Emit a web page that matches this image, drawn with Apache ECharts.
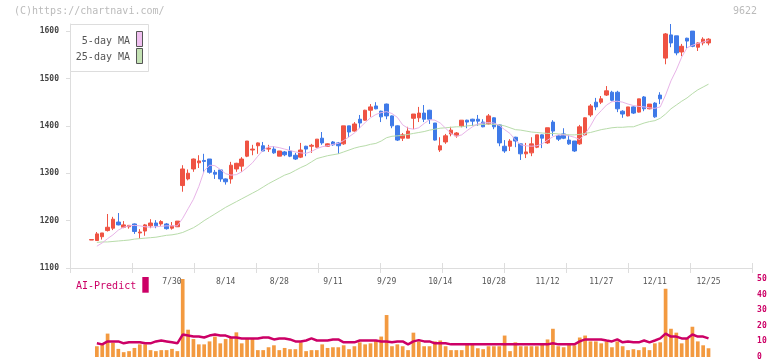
<!DOCTYPE html>
<html><head><meta charset="utf-8">
<script src="https://cdn.jsdelivr.net/npm/echarts@6/dist/echarts.min.js"></script>
<style>html,body{margin:0;padding:0;background:#fff}#c{width:772px;height:361px}</style>
</head><body><div id="c"></div>
<script>
const dates = ['7/8','7/9','7/10','7/11','7/14','7/15','7/16','7/17','7/18','7/22','7/23','7/24','7/25','7/28','7/29','7/30','7/31',
'8/1','8/4','8/5','8/6','8/7','8/8','8/12','8/13','8/14','8/15','8/18','8/19','8/20','8/21','8/22','8/25','8/26','8/27','8/28','8/29',
'9/1','9/2','9/3','9/4','9/5','9/8','9/9','9/10','9/11','9/12','9/16','9/17','9/18','9/19','9/22','9/24','9/25','9/26','9/29','9/30',
'10/1','10/2','10/3','10/6','10/7','10/8','10/9','10/10','10/14','10/15','10/16','10/17','10/20','10/21','10/22','10/23','10/24','10/27','10/28','10/29','10/30','10/31',
'11/4','11/5','11/6','11/7','11/10','11/11','11/12','11/13','11/14','11/17','11/18','11/19','11/20','11/21','11/25','11/26','11/27','11/28',
'12/1','12/2','12/3','12/4','12/5','12/8','12/9','12/10','12/11','12/12','12/15','12/16','12/17','12/18','12/19','12/22','12/23','12/24','12/25'];

const tickLabels = ['7/30','8/14','8/28','9/11','9/29','10/14','10/28','11/12','11/27','12/11','12/25'];
const priceTicks = [1100,1200,1300,1400,1500,1600];

// [open, close, low, high]
const candles = [
[1159,1160,1159,1160],[1158,1172,1158,1176],[1166,1174,1160,1174],[1179,1186,1177,1214],[1184,1203,1180,1208],
[1197,1191,1190,1216],[1186,1191,1184,1199],[1187,1190,1183,1190],[1193,1177,1172,1194],[1174,1176,1162,1182],
[1178,1191,1168,1193],[1189,1195,1184,1203],[1195,1189,1184,1201],[1193,1198,1189,1201],[1193,1183,1181,1195],
[1184,1189,1181,1197],[1187,1199,1187,1199],[1274,1309,1261,1317],[1288,1300,1285,1308],[1309,1330,1303,1331],
[1322,1326,1311,1338],[1327,1325,1301,1341],[1330,1302,1299,1330],[1302,1298,1288,1307],[1307,1288,1282,1307],
[1288,1282,1276,1289],[1288,1317,1278,1324],[1309,1321,1303,1322],[1315,1330,1303,1334],[1336,1368,1334,1368],
[1349,1351,1338,1360],[1358,1364,1341,1365],[1358,1347,1346,1366],[1351,1353,1345,1360],[1351,1343,1341,1357],
[1336,1347,1336,1347],[1345,1339,1336,1347],[1347,1336,1334,1357],[1338,1330,1328,1343],[1334,1349,1332,1364],
[1357,1351,1336,1358],[1357,1359,1343,1362],[1355,1372,1354,1372],[1374,1364,1360,1387],[1357,1362,1356,1363],
[1366,1360,1358,1368],[1364,1358,1341,1366],[1362,1400,1360,1400],[1400,1387,1376,1400],[1389,1404,1388,1408],
[1414,1406,1395,1423],[1412,1433,1411,1434],[1433,1440,1419,1446],[1442,1436,1435,1450],[1431,1419,1408,1432],
[1446,1421,1414,1447],[1421,1400,1395,1422],[1400,1370,1368,1401],[1374,1381,1368,1385],[1374,1389,1374,1398],
[1416,1425,1393,1425],[1417,1427,1408,1440],[1427,1414,1408,1444],[1433,1414,1404,1434],[1406,1370,1369,1406],
[1349,1358,1345,1376],[1366,1379,1362,1383],[1383,1391,1378,1398],[1379,1385,1375,1387],[1400,1412,1397,1412],
[1412,1408,1395,1413],[1414,1410,1400,1415],[1414,1410,1400,1423],[1408,1398,1397,1414],[1404,1421,1403,1425],
[1417,1398,1393,1418],[1402,1364,1357,1403],[1357,1347,1343,1370],[1357,1368,1347,1372],[1376,1368,1355,1377],
[1362,1341,1328,1362],[1341,1345,1332,1364],[1343,1362,1336,1376],[1355,1381,1353,1381],[1381,1374,1353,1382],
[1364,1396,1362,1396],[1408,1389,1379,1412],[1379,1372,1368,1381],[1383,1374,1372,1395],[1370,1362,1360,1381],
[1368,1347,1345,1368],[1362,1398,1360,1402],[1381,1417,1380,1418],[1423,1442,1419,1446],[1450,1440,1433,1459],
[1450,1457,1446,1463],[1465,1474,1463,1484],[1471,1454,1452,1474],[1471,1436,1429,1474],[1431,1425,1417,1433],
[1421,1440,1420,1440],[1440,1427,1425,1441],[1429,1457,1428,1457],[1461,1436,1431,1463],[1436,1446,1435,1446],
[1448,1419,1417,1450],[1465,1457,1446,1471],[1543,1594,1530,1596],[1592,1575,1566,1615],[1590,1554,1549,1590],
[1556,1568,1547,1573],[1585,1579,1564,1586],[1600,1568,1566,1600],[1566,1575,1558,1576],[1575,1583,1570,1587],
[1575,1583,1570,1585]];

const ma5 = [null,1146,1153,1162,1170,1180,1186,1189,1190,1189,1187,1186,1187,1188,1189,1189,1189,1205,1225,1245,1272,
1305,1317,1316,1308,1299,1296,1297,1303,1312,1322,1336,1349,1356,1356,1354,1351,1348,1345,1343,1342,
1346,1352,1356,1358,1361,1363,1369,1377,1385,1396,1407,1417,1424,1428,1430,1426,1418,1402,1395,1393,
1396,1405,1413,1412,1406,1395,1384,1378,1381,1390,1398,1404,1406,1407,1406,1401,1392,1384,1370,1360,
1358,1357,1358,1362,1370,1377,1381,1381,1379,1376,1371,1383,1400,1420,1432,1444,1451,1452,1450,1446,
1443,1441,1440,1438,1437,1440,1465,1495,1518,1545,1565,1570,1574,1577,1580];

const ma25 = [null,1154,1155,1155,1156,1157,1158,1159,1161,1162,1163,1164,1165,1167,1169,1170,1172,1175,1180,1185,1192,
1200,1207,1214,1221,1228,1234,1240,1246,1252,1258,1264,1271,1278,1284,1290,1296,1300,1306,1312,1317,
1324,1331,1334,1337,1339,1341,1345,1349,1353,1356,1358,1361,1363,1368,1375,1378,1379,1380,1382,1384,
1386,1388,1391,1393,1395,1396,1397,1398,1398,1400,1401,1402,1403,1404,1403,1402,1400,1396,1392,1391,
1389,1387,1386,1385,1384,1384,1383,1382,1381,1381,1382,1384,1386,1389,1392,1394,1396,1397,1397,1398,
1398,1402,1406,1409,1411,1416,1425,1436,1444,1452,1459,1468,1476,1482,1488];

const volume = [null,6.9,8.1,15,9.2,5.2,3.1,3.75,5.8,8.1,8.1,4.4,3.75,4.4,4.4,5.2,3.75,50,17.5,11.5,8.1,
8.1,10,13.1,8.75,11.5,12.5,15.8,8.75,11.9,11.9,4.4,4.4,6.25,7.5,4.4,5.8,5,5,9.4,3.75,
4.4,4.4,8.1,5.8,6.25,6.25,7.5,5,6.9,9.4,8.1,8.75,10.8,13.1,26.9,6.9,8.1,6.9,4.4,15.6,
10,6.9,6.9,10,10.6,6.9,4.4,4.4,4.4,8.1,8.1,5.6,5,6.9,6.9,6.9,13.75,3.75,9.4,6.9,
6.9,6.9,6.9,8.1,11.25,18.1,6.9,6.25,8.1,7.5,12.5,13.75,10,10,8.75,10,6.25,10,6.9,4.4,
5,4.4,6.25,4.4,8.75,9.4,43.75,18.1,15.6,8.75,11.9,19.4,10,7.5,5.6];

const predict = [null,8.75,8.1,10,10,10,8.75,9.4,9.4,9.4,8.75,8.75,10,10.6,10,9.4,8.75,14.4,13.75,13.1,13.1,
12.5,13.75,14.4,13.75,13.75,12.5,12.5,11.9,11.9,11.9,11.9,12.5,12.5,11.25,11.9,11.9,11.25,10,10,10.6,
11.9,10.6,10.6,10.6,11.25,11.25,9.4,9.4,9.4,10.6,10.6,10.6,10.6,10,10,9.4,10,10,8.1,10,
10.8,10,10,8.75,8.75,8.75,8.1,8.1,8.1,8.1,8.1,8.1,8.1,8.1,8.1,8.1,8.1,8.1,8.1,8.1,
8.1,8.1,8.1,8.1,8.1,8.75,8.1,8.1,8.1,8.1,10,11.25,11.25,11.25,11.25,10.6,10,11.25,9.4,10,
9.4,9.4,10.6,9.4,10.6,11.9,15,13.1,13.1,11.9,11.9,14.4,13.1,13.1,11.9];

const PADL = 3, PADR = 8;
const cats = [];
for (let i = 0; i < PADL; i++) cats.push('padL' + i);
dates.forEach(d => cats.push(d));
for (let i = 0; i < PADR; i++) cats.push('padR' + i);
const pad = (arr, empty) => [...Array(PADL).fill(empty), ...arr, ...Array(PADR).fill(empty)];

const MONO = 'DejaVu Sans Mono';
const RED = '#ef5343', BLUE = '#3f7ae8';
const chart = echarts.init(document.getElementById('c'), null, {renderer: 'canvas'});
const slotLeft = 72.72, slotRight = 17.88;

chart.setOption({
  animation: false,
  backgroundColor: '#fff',
  grid: [
    {left: 70, right: 20, top: 24, bottom: 93},
    {left: slotLeft, right: slotRight, top: 24, bottom: 93},
    {left: slotLeft, right: slotRight, top: 279, bottom: 2}
  ],
  xAxis: [
    {type: 'value', gridIndex: 0, min: 0, max: 11, interval: 1, position: 'bottom',
     axisLine: {show: true, lineStyle: {color: '#dddddd', width: 1}},
     axisTick: {show: true, inside: true, length: 5, lineStyle: {color: '#dddddd'}},
     axisLabel: {show: false}, splitLine: {show: false}},
    {type: 'value', gridIndex: 0, min: 0, max: 11, interval: 1, position: 'bottom',
     axisLine: {show: false},
     axisTick: {show: true, inside: false, length: 5, lineStyle: {color: '#dddddd'}},
     axisLabel: {show: false}, splitLine: {show: false}},
    {type: 'category', gridIndex: 1, data: cats, boundaryGap: true, position: 'bottom',
     axisLine: {show: false}, axisTick: {show: false}, splitLine: {show: false},
     axisLabel: {show: true, interval: (i, v) => tickLabels.indexOf(v) >= 0,
       color: '#555', fontSize: 8, fontFamily: MONO, margin: 10,
       formatter: v => tickLabels.indexOf(v) >= 0 ? v : ''}},
    {type: 'category', gridIndex: 2, data: cats, boundaryGap: true, show: false}
  ],
  yAxis: [
    {type: 'value', gridIndex: 0, min: 1100, max: 1615,
     axisLine: {show: true, lineStyle: {color: '#dddddd'}},
     axisTick: {show: true, length: 4, lineStyle: {color: '#dddddd'}, customValues: priceTicks},
     axisLabel: {show: true, color: '#444', fontSize: 8, fontWeight: 'bold', fontFamily: MONO, margin: 11,
       customValues: priceTicks, formatter: v => String(v)},
     splitLine: {show: false}},
    {type: 'value', gridIndex: 1, min: 1100, max: 1615, show: false, splitLine: {show: false}},
    {type: 'value', gridIndex: 2, min: 0, max: 50, interval: 10, position: 'right',
     axisLine: {show: false}, axisTick: {show: false}, splitLine: {show: false},
     axisLabel: {color: '#cc0066', fontSize: 8, fontWeight: 'bold', fontFamily: MONO, margin: 3, formatter: v => String(v)}}
  ],
  series: [
    {type: 'line', name: '25-day MA', xAxisIndex: 2, yAxisIndex: 1, data: pad(ma25, null),
     showSymbol: false, lineStyle: {color: '#b8dcaa', width: 1}},
    {type: 'line', name: '5-day MA', xAxisIndex: 2, yAxisIndex: 1, data: pad(ma5, null),
     showSymbol: false, lineStyle: {color: '#e8b4e8', width: 1}},
    {type: 'candlestick', xAxisIndex: 2, yAxisIndex: 1, data: pad(candles, '-'),
     barWidth: 4,
     itemStyle: {color: RED, color0: BLUE, borderColor: RED, borderColor0: BLUE, borderColorDoji: RED, borderWidth: 1}},
    {type: 'bar', xAxisIndex: 3, yAxisIndex: 2, data: pad(volume, null), barWidth: 3.7,
     itemStyle: {color: '#f39a40'}},
    {type: 'line', xAxisIndex: 3, yAxisIndex: 2, data: pad(predict, null), showSymbol: false,
     lineStyle: {color: '#cc0066', width: 2.5}}
  ],
  graphic: [
    {type: 'text', left: 14, top: 6, style: {text: '(C)https://chartnavi.com/', fill: '#bbbbbb', font: '10px "DejaVu Sans Mono"'}},
    {type: 'text', right: 15, top: 6, style: {text: '9622', fill: '#bbbbbb', font: '10px "DejaVu Sans Mono"'}},
    {type: 'rect', shape: {x: 70.5, y: 24.5, width: 78, height: 47}, style: {fill: '#fff', stroke: '#dddddd', lineWidth: 1}, z: 100},
    {type: 'text', x: 130, y: 41, style: {text: '5-day MA', fill: '#555', font: '10px "DejaVu Sans Mono"', align: 'right', verticalAlign: 'middle'}, z: 101},
    {type: 'text', x: 130, y: 57, style: {text: '25-day MA', fill: '#555', font: '10px "DejaVu Sans Mono"', align: 'right', verticalAlign: 'middle'}, z: 101},
    {type: 'rect', shape: {x: 136.5, y: 31.5, width: 6, height: 15}, style: {fill: '#f0c0f0', stroke: '#555', lineWidth: 1}, z: 101},
    {type: 'rect', shape: {x: 136.5, y: 48.5, width: 6, height: 15}, style: {fill: '#c4e2b4', stroke: '#555', lineWidth: 1}, z: 101},
    {type: 'text', x: 76, y: 286, style: {text: 'AI-Predict', fill: '#cc0066', font: '10px "DejaVu Sans Mono"', verticalAlign: 'middle'}, z: 101},
    {type: 'rect', shape: {x: 142.3, y: 277, width: 6.4, height: 15.7}, style: {fill: '#cc0066'}, z: 101}
  ]
});
</script></body></html>
